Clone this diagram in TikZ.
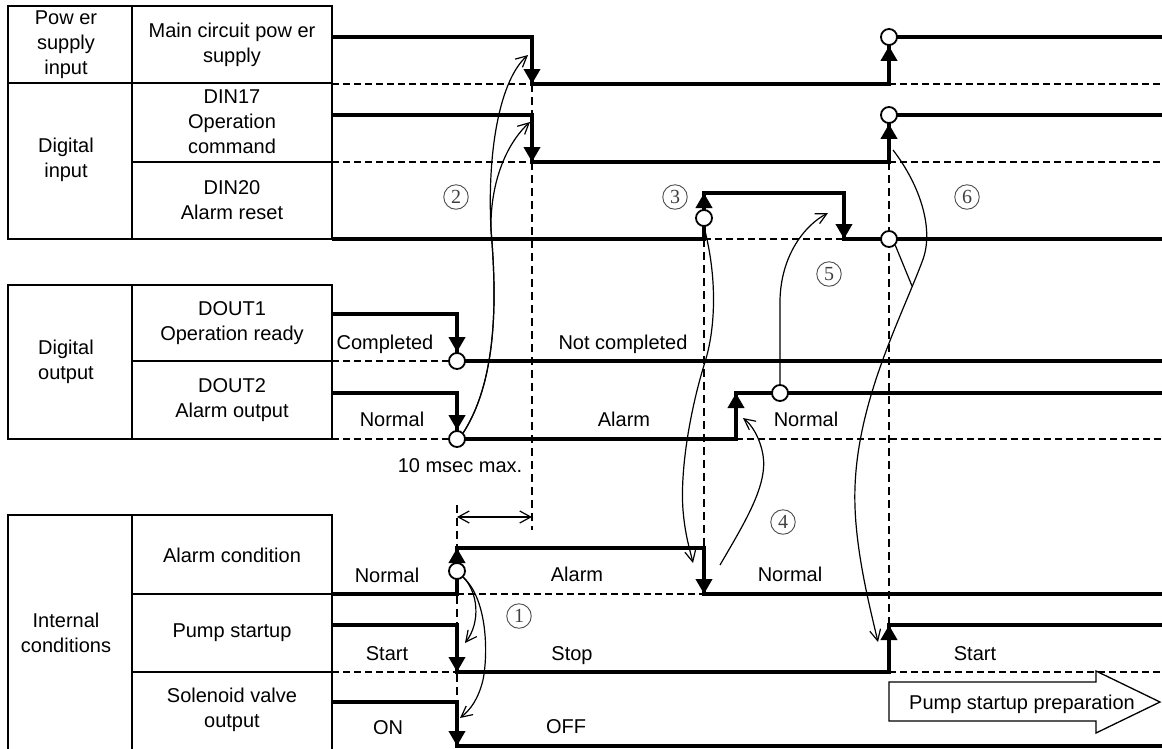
\documentclass[tikz,border=0pt]{standalone}
\usepackage{fontspec}
\setmainfont{Liberation Sans}
\newfontfamily\numfont{Liberation Serif}
\usetikzlibrary{arrows.meta}

\begin{document}
\begin{tikzpicture}[x=1pt,y=1pt,line join=miter,
        tabline/.style={line width=1.3pt},
        tabsplit/.style={line width=2.4pt},
        sig/.style={line width=4pt},
        flank/.style={line width=4pt,-{Triangle[length=15pt,width=16pt]}},
        lowdash/.style={line width=1.3pt,dash pattern=on 7pt off 4pt},
        vdash/.style={line width=1.8pt,dash pattern=on 8pt off 5pt},
        knot/.style={circle,draw,fill=white,line width=1.8pt,minimum size=16pt,inner sep=0pt},
        cue/.style={line width=1.2pt,-{Straight Barb[length=11pt,width=11pt]}},
        span/.style={line width=1.2pt,{Straight Barb[length=11pt,width=12pt]}-{Straight Barb[length=11pt,width=12pt]}},
        cell/.style={font=\fontsize{20}{25}\selectfont,align=center},
        lvl/.style={font=\fontsize{20}{24}\selectfont,text height=14pt,text depth=4pt,inner sep=0pt},
        numc/.style={circle,draw=black!70,line width=0.9pt,minimum size=24.5pt,inner sep=0pt,
                     text=black!75,font=\numfont\fontsize{20}{20}\selectfont}]
    \useasboundingbox (0,0) rectangle (1162,-748);

        % tabele -- lewa strona
    \draw[tabline] (8,-6) rectangle (332,-239);
    \draw[tabsplit] (132,-6) -- (132,-239);
    \draw[tabsplit] (8,-83) -- (332,-83);
    \draw[tabsplit] (132,-162) -- (332,-162);

    \draw[tabline] (8,-285) rectangle (332,-439);
    \draw[tabsplit] (132,-285) -- (132,-439);
    \draw[tabsplit] (132,-361) -- (332,-361);

    \draw[tabline] (8,-760) -- (8,-515) -- (332,-515) -- (332,-760);
    \draw[tabsplit] (132,-515) -- (132,-760);
    \draw[tabsplit] (132,-594) -- (332,-594);
    \draw[tabsplit] (132,-672) -- (332,-672);

    \node[cell] (psin)   at (66,-45)   {Pow er\\supply\\input};
    \node[cell] (mcps)   at (232,-45)  {Main circuit pow er\\supply};
    \node[cell] (dinp)   at (66,-160)  {Digital\\input};
    \node[cell] (din17)  at (232,-122) {DIN17\\Operation\\command};
    \node[cell] (din20)  at (232,-200) {DIN20\\Alarm reset};
    \node[cell] (doutp)  at (66,-362)  {Digital\\output};
    \node[cell] (dout1)  at (232,-323) {DOUT1\\Operation ready};
    \node[cell] (dout2)  at (232,-400) {DOUT2\\Alarm output};
    \node[cell] (intc)   at (66,-633)  {Internal\\conditions};
    \node[cell] (alarmc) at (232,-555) {Alarm condition};
    \node[cell] (pumps)  at (232,-633) {Pump startup};
    \node[cell] (solv)   at (232,-710) {Solenoid valve\\output};

        % linie odniesienia
    \draw[lowdash] (332,-84) -- (532,-84);   \draw[lowdash] (889,-84) -- (1162,-84);
    \draw[lowdash] (332,-162) -- (532,-162); \draw[lowdash] (889,-162) -- (1162,-162);
    \draw[lowdash] (704,-239) -- (844,-239);
    \draw[lowdash] (332,-361) -- (457,-361);
    \draw[lowdash] (332,-439) -- (457,-439); \draw[lowdash] (736,-439) -- (1162,-439);
    \draw[lowdash] (457,-594) -- (704,-594);
    \draw[lowdash] (332,-672) -- (457,-672); \draw[lowdash] (889,-672) -- (1162,-672);

    \draw[vdash] (532,-84) -- (532,-530);
    \draw[vdash] (457,-505) -- (457,-746);
    \draw[vdash] (704,-239) -- (704,-548);
    \draw[vdash] (889,-162) -- (889,-625);

        % przebiegi
    \draw[sig] (332,-37) -- (532,-37) -- (532,-84) -- (889,-84) -- (889,-37) -- (1162,-37);
    \draw[sig] (332,-115) -- (532,-115) -- (532,-162) -- (889,-162) -- (889,-115) -- (1162,-115);
    \draw[sig] (332,-239) -- (704,-239) -- (704,-193) -- (844,-193) -- (844,-239) -- (1162,-239);
    \draw[sig] (332,-314) -- (457,-314) -- (457,-361) -- (1162,-361);
    \draw[sig] (332,-393) -- (457,-393) -- (457,-439) -- (736,-439) -- (736,-393) -- (1162,-393);
    \draw[sig] (332,-594) -- (457,-594) -- (457,-548) -- (704,-548) -- (704,-594) -- (1162,-594);
    \draw[sig] (332,-625) -- (457,-625) -- (457,-672) -- (889,-672) -- (889,-625) -- (1162,-625);
    \draw[sig] (332,-702) -- (457,-702) -- (457,-746) -- (1162,-746);

    \node[knot] (pc)  at (889,-37)  {};
    \node[knot] (dc)  at (889,-115) {};
    \node[knot] (rc1) at (704,-218) {};
    \node[knot] (rc2) at (889,-239) {};
    \node[knot] (o1)  at (457,-361) {};
    \node[knot] (o2)  at (457,-439) {};
    \node[knot] (o5)  at (780,-393) {};
    \node[knot] (ac)  at (457,-571) {};

    \draw[flank] (532,-60) -- (532,-84);
    \draw[flank] (889,-70) -- (pc.south);
    \draw[flank] (532,-138) -- (532,-162);
    \draw[flank] (889,-150) -- (dc.south);
    \draw[flank] (rc1.north) -- (704,-193);
    \draw[flank] (844,-215) -- (844,-239);
    \draw[flank] (457,-330) -- (o1.north);
    \draw[flank] (457,-410) -- (o2.north);
    \draw[flank] (736,-420) -- (736,-393);
    \draw[flank] (ac.north) -- (457,-548);
    \draw[flank] (704,-570) -- (704,-594);
    \draw[flank] (457,-648) -- (457,-672);
    \draw[flank] (889,-650) -- (889,-625);
    \draw[flank] (457,-722) -- (457,-746);

        % stany
    \node[lvl] (tcomp)   at (385,-344) {Completed};
    \node[lvl] (tnotc)   at (623,-344) {Not completed};
    \node[lvl] (tnorm1)  at (392,-421) {Normal};
    \node[lvl] (talarm1) at (624,-421) {Alarm};
    \node[lvl] (tnorm2)  at (806,-421) {Normal};
    \node[lvl] (tmax)    at (460,-467) {10 msec max.};
    \node[lvl] (tnorm3)  at (387,-577) {Normal};
    \node[lvl] (talarm2) at (577,-576) {Alarm};
    \node[lvl] (tnorm4)  at (790,-576) {Normal};
    \node[lvl] (tstart1) at (387,-655) {Start};
    \node[lvl] (tstop)   at (572,-655) {Stop};
    \node[lvl] (tstart2) at (975,-655) {Start};
    \node[lvl] (ton)     at (388,-729) {ON};
    \node[lvl] (toff)    at (566,-728) {OFF};

    \draw[line width=1.3pt,fill=white] (889,-682) -- (1096,-682) -- (1096,-671) -- (1160,-702)
        -- (1096,-733) -- (1096,-721) -- (889,-721) -- cycle;
    \node[lvl] (prep) at (1022,-704) {Pump startup preparation};

        % 10 msec
    \coordinate (m1) at (457,-517);
    \coordinate (m2) at (532,-517);
    \draw[span] (m1) -- (m2);

        % strzałki zależności
    \coordinate (e2a) at (528,-55);
    \coordinate (e2b) at (530,-122);
    \coordinate (e1a) at (465,-643);
    \coordinate (e1b) at (460,-718);
    \coordinate (e3)  at (693,-563);
    \coordinate (s4)  at (720,-565);
    \coordinate (e4)  at (743,-418);
    \coordinate (e5)  at (828,-213);
    \coordinate (s6)  at (893,-150);
    \coordinate (e6)  at (878,-642);
    \coordinate (j6)  at (912,-286);

    \draw[cue] (o2.north east) .. controls (497,-380) and (497,-300) .. (491,-230)
        .. controls (487,-150) and (500,-80) .. (e2a);
    \draw[cue] (o2.north east) .. controls (497,-380) and (497,-300) .. (491,-230)
        .. controls (490,-185) and (505,-145) .. (e2b);
    \draw[cue] (ac.south east) .. controls (478,-592) and (481,-622) .. (e1a);
    \draw[cue] (ac.south east) .. controls (488,-600) and (488,-655) .. (483,-680)
        .. controls (478,-700) and (470,-710) .. (e1b);
    \draw[cue] (rc1.south) .. controls (718,-280) and (715,-330) .. (705,-362)
        .. controls (690,-410) and (680,-470) .. (683,-510)
        .. controls (685,-535) and (690,-550) .. (e3);
    \draw[cue] (s4) .. controls (745,-522) and (768,-485) .. (763,-455)
        .. controls (760,-438) and (752,-425) .. (e4);
    \draw[cue] (o5.north) -- (780,-300) .. controls (781,-255) and (805,-225) .. (e5);
    \draw[cue] (s6) .. controls (920,-185) and (935,-230) .. (922,-262)
        .. controls (900,-320) and (858,-400) .. (855,-487)
        .. controls (853,-540) and (868,-600) .. (e6);
    \draw[line width=1.2pt] (rc2.south east) -- (j6);

    \node[numc] (n1) at (519,-616) {1};
    \node[numc] (n2) at (456,-197) {2};
    \node[numc] (n3) at (675,-197) {3};
    \node[numc] (n4) at (783,-522) {4};
    \node[numc] (n5) at (829,-274) {5};
    \node[numc] (n6) at (967,-197) {6};
\end{tikzpicture}
\end{document}
